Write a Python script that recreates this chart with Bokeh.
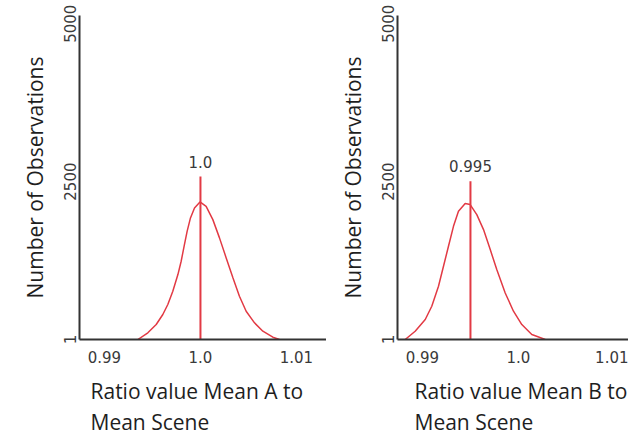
from bokeh.plotting import figure
from bokeh.layouts import row
from bokeh.models import FixedTicker, Range1d, Title
from bokeh.core.properties import value
from bokeh.embed import file_html
from bokeh.resources import INLINE

# ---- data ----
a_x = [0.99348, 0.99452, 0.99539, 0.99608, 0.99660, 0.99712, 0.99765, 0.99799,
       0.99833, 0.99861, 0.99896, 0.99938, 0.99995, 1.00059, 1.00129, 1.00198,
       1.00268, 1.00338, 1.00406, 1.00476, 1.00563, 1.00650, 1.00754, 1.00823]
a_y = [0, 106, 237, 396, 554, 764, 1028, 1239,
       1503, 1713, 1925, 2083, 2178, 2109, 1898, 1609,
       1292, 976, 685, 448, 264, 131, 36, 0]
a_peak = 1.0
a_peak_label = "1.0"
a_line_top = 2580

b_x = [0.98820, 0.98924, 0.99029, 0.99097, 0.99167, 0.99219, 0.99271, 0.99323,
       0.99375, 0.99445, 0.99497, 0.99566, 0.99636, 0.99706, 0.99774, 0.99862,
       0.99948, 1.00035, 1.00139, 1.00279]
b_y = [0, 131, 316, 527, 843, 1160, 1476, 1792,
       2030, 2152, 2136, 1978, 1740, 1424, 1107, 737,
       448, 237, 79, 0]
b_peak = 0.995
b_peak_label = "0.995"
b_line_top = 2504

x_tick_vals = [0.99, 1.0, 1.01]
x_tick_labels = ["0.99", "1.0", "1.01"]
y_tick_vals = [1, 2500, 5000]
y_tick_labels = ["1", "2500", "5000"]

y_label = "Number of Observations"
x_label_a = "Ratio value Mean A to\nMean Scene"
x_label_b = "Ratio value Mean B to\nMean Scene"

X0 = 0.9874
RED = "#e23a44"
AXIS = "#333333"
TXT = "#3a3a3a"
LABEL = "#1e1e1e"


def make_panel(xs, ys, peak, peak_label, line_top, xlabel, width, border_left,
               x_end, label_offset):
    p = figure(width=width, height=446, output_backend="svg", toolbar_location=None,
               x_range=Range1d(X0, x_end), y_range=Range1d(0, 5130),
               min_border_left=border_left, min_border_right=0, min_border_top=15,
               min_border_bottom=106)
    p.outline_line_color = None
    p.xgrid.visible = False
    p.ygrid.visible = False

    p.line(xs, ys, line_color=RED, line_width=1.5)
    p.segment(x0=[peak], y0=[0], x1=[peak], y1=[line_top], line_color=RED, line_width=2)
    p.text(x=[peak], y=[line_top], text=[peak_label], text_align="center",
           text_baseline="bottom", y_offset=-9, text_font=value("DejaVu Sans"),
           text_font_size="15px", text_color=TXT)

    for ax in (p.xaxis[0], p.yaxis[0]):
        ax.axis_line_color = AXIS
        ax.axis_line_width = 2
        ax.major_tick_line_color = None
        ax.minor_tick_line_color = None
        ax.major_tick_out = 0
        ax.major_tick_in = 0
        ax.minor_tick_out = 0
        ax.minor_tick_in = 0
        ax.major_label_text_font = "DejaVu Sans"
        ax.major_label_text_font_size = "15px"
        ax.major_label_text_color = TXT

    xa = p.xaxis[0]
    xa.ticker = FixedTicker(ticks=x_tick_vals)
    xa.major_label_overrides = dict(zip(x_tick_vals, x_tick_labels))
    xa.major_label_standoff = 11

    ya = p.yaxis[0]
    ya.ticker = FixedTicker(ticks=y_tick_vals)
    ya.major_label_overrides = dict(zip(y_tick_vals, y_tick_labels))
    ya.major_label_orientation = "vertical"
    ya.major_label_standoff = 3
    ya.axis_label = y_label
    ya.axis_label_text_font = "Open Sans"
    ya.axis_label_text_font_style = "normal"
    ya.axis_label_text_font_size = "21px"
    ya.axis_label_text_color = LABEL
    ya.axis_label_standoff = 13

    t = Title(text=xlabel, align="left", offset=label_offset,
              text_font="Open Sans", text_font_size="21px",
              text_font_style="normal", text_color=LABEL,
              text_line_height=1.12, standoff=20)
    p.add_layout(t, "below")
    return p


p1 = make_panel(a_x, a_y, a_peak, a_peak_label, a_line_top, x_label_a,
                326, 79, X0 + 247 / 9600, 11)
p2 = make_panel(b_x, b_y, b_peak, b_peak_label, b_line_top, x_label_b,
                302, 71, X0 + 231 / 9600, 17)

layout = row(p1, p2)
open("out.html", "w").write(file_html(layout, INLINE))
